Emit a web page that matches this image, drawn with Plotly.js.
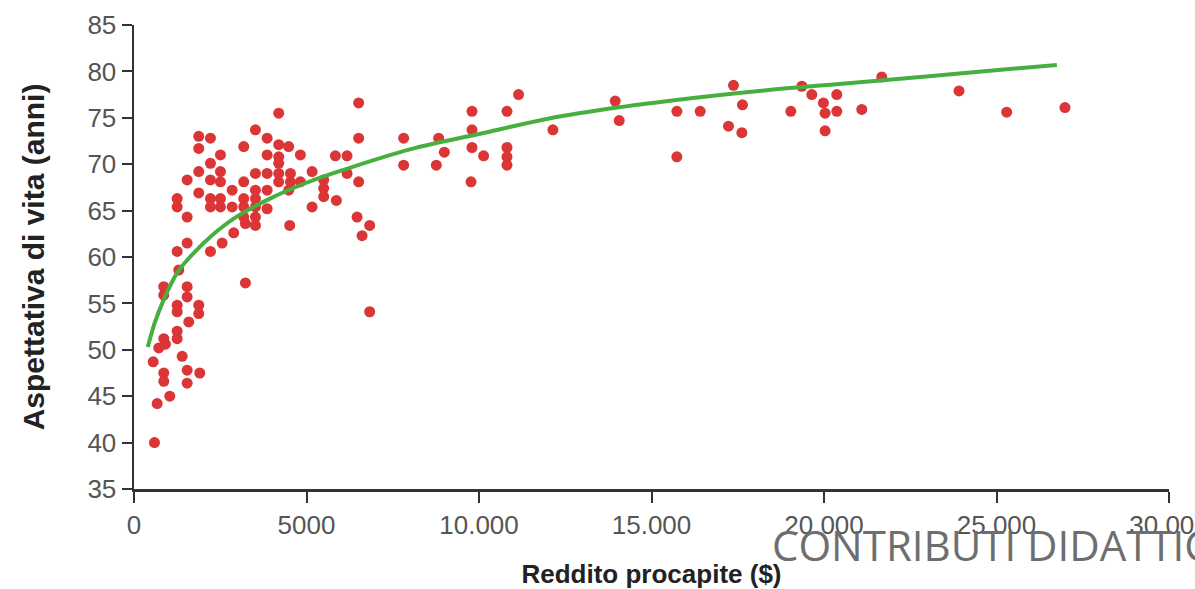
<!DOCTYPE html>
<html><head><meta charset="utf-8">
<script src="https://cdn.plot.ly/plotly-3.0.1.min.js"></script>
<style>html,body{margin:0;padding:0;background:#fff;overflow:hidden}#chart{width:1195px;height:589px}</style>
</head><body><div id="chart"></div>
<script>
// Reddito procapite ($) of each country
const incomeX = [
  4195,3520,3859,1877,2216,1877,3181,4195,4484,2506,3859,4195,4195,4823,2216,1877,2506,3520,3859,4195,
  4534,5162,1541,2216,2506,3181,4195,4534,4823,1877,2845,3520,3859,4484,1251,1251,2216,2216,2506,2506,
  2845,3181,3181,3520,3520,3859,5162,1541,3181,3520,3520,3230,4513,2891,2555,2216,1541,1251,1298,3230,
  863,863,1541,1541,1251,1251,1877,1877,1587,1251,1251,863,912,718,556,1396,863,863,1541,1541,1906,1037,672,594,
  6512,11147,9797,10811,9797,6512,7816,8830,5837,6176,8995,9797,10133,10811,10811,10811,7816,8763,6176,5498,
  5498,5498,5866,6512,9768,6466,6831,6611,6831,
  12143,13949,14065,15735,16411,15735,17376,17637,17231,17619,19038,19357,19647,19983,20032,20032,20371,20371,21095,
  21674,23914,25295,26985
];
// Aspettativa di vita (anni)
const lifeY = [
  75.5,73.7,72.8,73.0,72.8,71.7,71.9,72.1,71.9,71.0,71.0,70.8,70.1,71.0,70.1,69.2,69.2,69.0,69.0,69.0,
  69.0,69.2,68.3,68.3,68.1,68.1,68.1,68.1,68.1,66.9,67.2,67.2,67.2,67.2,66.3,65.4,66.3,65.4,66.3,65.4,
  65.4,66.3,65.4,66.3,65.4,65.2,65.4,64.3,64.3,64.3,63.4,63.6,63.4,62.6,61.5,60.6,61.5,60.6,58.6,57.2,
  56.8,55.9,56.8,55.7,54.8,54.1,54.8,53.9,53.0,52.0,51.2,51.2,50.6,50.2,48.7,49.3,47.5,46.6,47.8,46.4,47.5,45.0,44.2,40.0,
  76.6,77.5,75.7,75.7,73.7,72.8,72.8,72.8,70.9,70.9,71.3,71.8,70.9,71.8,70.8,69.9,69.9,69.9,69.0,68.3,
  67.4,66.5,66.1,68.1,68.1,64.3,63.4,62.3,54.1,
  73.7,76.8,74.7,75.7,75.7,70.8,78.5,76.4,74.1,73.4,75.7,78.4,77.5,76.6,75.5,73.6,77.5,75.7,75.9,
  79.4,77.9,75.6,76.1
];
// trend curve
const curveX = [400,600,850,1250,1750,2250,3000,4000,5000,6000,8000,10300,12000,14000,16600,19000,21300,24000,26750];
const curveY = [50.3,52.9,55.3,58.3,60.5,62.3,64.4,66.4,68.0,69.3,71.6,73.5,74.9,76.1,77.3,78.2,78.9,79.8,80.7];

const xTickVals = [0,5000,10000,15000,20000,25000,30000];
const xTickText = ['0','5000','10.000','15.000','20.000','25.000','30.000'];
const yTickVals = [35,40,45,50,55,60,65,70,75,80,85];

const xTitle = 'Reddito procapite ($)';
const yTitle = 'Aspettativa di vita (anni)';
const watermark = 'CONTRIBUTI DIDATTICI';

const traces = [
  {type:'scatter', mode:'markers', x:incomeX, y:lifeY,
   marker:{color:'#dc3535', size:11, line:{width:0}}, hoverinfo:'skip'},
  {type:'scatter', mode:'lines', x:curveX, y:curveY,
   line:{color:'#45b040', width:4, shape:'spline', smoothing:1}, hoverinfo:'skip'}
];

const tickFont = {family:'Liberation Sans, Arial, sans-serif', size:26, color:'#555'};
const layout = {
  width:1195, height:589,
  margin:{l:134, r:26, t:25, b:100},
  paper_bgcolor:'#fff', plot_bgcolor:'#fff',
  showlegend:false,
  xaxis:{range:[0,30000], tickmode:'array', tickvals:xTickVals, ticktext:xTickText,
    showline:true, linecolor:'#333', linewidth:2.5, ticks:'outside', ticklen:11, tickwidth:2, tickcolor:'#333',
    showgrid:false, zeroline:false, tickfont:tickFont, automargin:false, ticklabeloverflow:'allow',
    title:{text:'<b>'+xTitle+'</b>', standoff:26, font:{family:'Liberation Sans, Arial, sans-serif', size:26, color:'#222'}}},
  yaxis:{range:[35,85], tickmode:'array', tickvals:yTickVals,
    showline:true, linecolor:'#333', linewidth:2.5, ticks:'outside', ticklen:10, tickwidth:2, tickcolor:'#333',
    showgrid:false, zeroline:false, tickfont:tickFont, automargin:false,
    title:{text:'<b>'+yTitle+'</b>', standoff:34, font:{family:'Liberation Sans, Arial, sans-serif', size:30, color:'#222'}}},
  annotations:[{text:watermark, xref:'paper', yref:'paper', x:0.6145, y:-0.12, xanchor:'left', yanchor:'middle',
    showarrow:false, font:{family:'Open Sans, sans-serif', size:42, color:'#6e6e6e'}}]
};
Plotly.newPlot('chart', traces, layout, {staticPlot:true, displayModeBar:false});
</script></body></html>
